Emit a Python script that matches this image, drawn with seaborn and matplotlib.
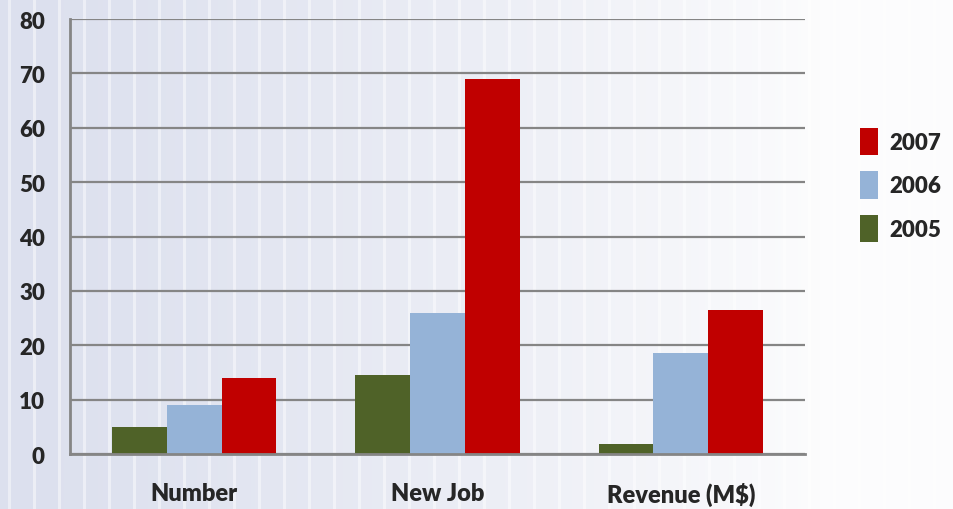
import numpy as np
import pandas as pd
import seaborn as sns
import matplotlib.pyplot as plt
from matplotlib.patches import Patch

# Chart data
categories = ["Number", "New Job", "Revenue (M$)"]
years = ["2005", "2006", "2007"]
values_2005 = [5, 14.5, 1.8]
values_2006 = [9, 26, 18.5]
values_2007 = [14, 69, 26.5]
y_ticks = [0, 10, 20, 30, 40, 50, 60, 70, 80]
colors = {"2005": "#4f6228", "2006": "#95b3d7", "2007": "#c00000"}

df = pd.DataFrame({
    "category": categories * 3,
    "year": ["2005"] * 3 + ["2006"] * 3 + ["2007"] * 3,
    "value": values_2005 + values_2006 + values_2007,
})

sns.set_theme(style="white")
plt.rcParams["font.family"] = ["Lato", "DejaVu Sans"]
plt.rcParams["font.weight"] = "heavy"

fig = plt.figure(figsize=(9.54, 5.1), dpi=100)

# Background: bluish-gray to white gradient with faint vertical stripes
W, H = 954, 510
xs = np.arange(W)
t = np.clip(xs / 820.0, 0, 1) ** 1.3
left = np.array([220, 224, 238]) / 255.0
right = np.array([252, 252, 253]) / 255.0
row = left[None, :] * (1 - t[:, None]) + right[None, :] * t[:, None]
stripe = ((xs - 8) % 25) < 3
row[stripe] = row[stripe] + (1 - row[stripe]) * 0.45
img = np.repeat(row[None, :, :], H, axis=0)
bg = fig.add_axes([0, 0, 1, 1], zorder=-1)
bg.imshow(img, aspect="auto", extent=[0, 1, 0, 1])
bg.axis("off")

ax = fig.add_axes([70 / W, 1 - 455 / H, 735 / W, 435 / H])
ax.set_facecolor("none")

sns.barplot(data=df, x="category", y="value", hue="year", order=categories,
            hue_order=years, palette=colors, width=0.675, gap=0,
            saturation=1, linewidth=0, ax=ax, legend=False)

ax.set_xlim(-0.51, 2.51)
ax.set_ylim(0, 80)
ax.set_yticks(y_ticks)
ax.grid(axis="y", color="#858585", linewidth=1.6)
ax.set_axisbelow(True)
for s in ["top", "right"]:
    ax.spines[s].set_visible(False)
for s in ["left", "bottom"]:
    ax.spines[s].set_color("#858585")
    ax.spines[s].set_linewidth(2)
ax.tick_params(axis="y", length=0, pad=18, labelsize=16)
ax.tick_params(axis="x", length=0, pad=20, labelsize=17)
for lab in ax.get_xticklabels() + ax.get_yticklabels():
    lab.set_fontweight("heavy")
ax.set_xlabel("")
ax.set_ylabel("")

handles = [Patch(facecolor=colors[y], edgecolor="none", label=y) for y in reversed(years)]
fig.legend(handles=handles, loc="center left", bbox_to_anchor=(840 / W, 1 - 186 / H),
           frameon=False, handlelength=0.8, handleheight=1.5,
           handletextpad=0.5, labelspacing=0.75, prop={"weight": "heavy", "size": 16})

fig.savefig("out.png", dpi=100)
